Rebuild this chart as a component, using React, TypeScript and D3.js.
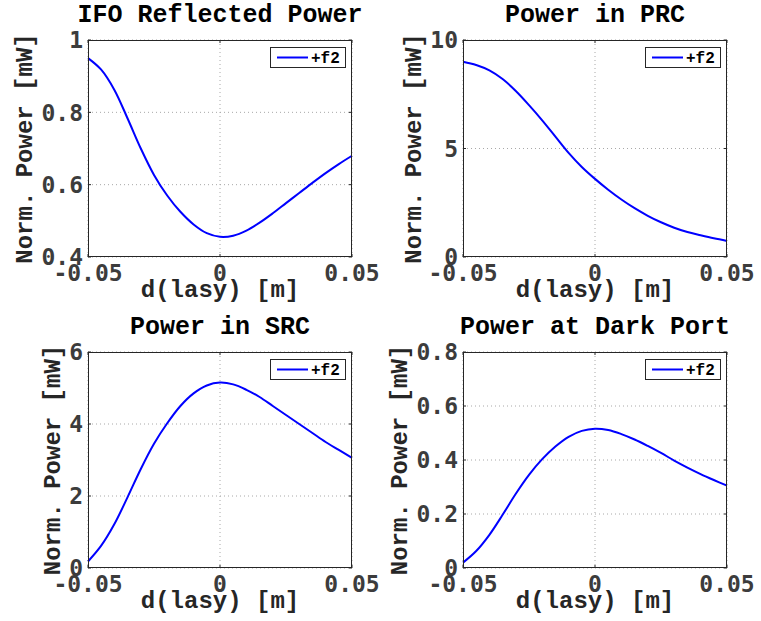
import React, { useRef, useEffect } from 'react';
import * as d3 from 'd3';

// x axis: d(lasy) [m]
const lasy = [
  -0.05, -0.045, -0.04, -0.035, -0.03, -0.025, -0.02, -0.015, -0.01, -0.005,
  0, 0.005, 0.01, 0.015, 0.02, 0.025, 0.03, 0.035, 0.04, 0.045, 0.05,
];
const xTicks = [-0.05, 0, 0.05];
const xTickLabels = ['-0.05', '0', '0.05'];

const titles = ['IFO Reflected Power', 'Power in PRC', 'Power in SRC', 'Power at Dark Port'];
const seriesName = '+f2';

const reflPower = [
  0.95, 0.918, 0.862, 0.783, 0.7, 0.627, 0.57, 0.525, 0.49, 0.466,
  0.456, 0.459, 0.473, 0.495, 0.521, 0.549, 0.577, 0.605, 0.632, 0.657, 0.68,
];
const prcPower = [
  9.0, 8.85, 8.6, 8.2, 7.65, 7.0, 6.3, 5.55, 4.8, 4.15,
  3.6, 3.1, 2.65, 2.25, 1.9, 1.6, 1.35, 1.15, 1.0, 0.86, 0.74,
];
const srcPower = [
  0.18, 0.62, 1.22, 1.97, 2.75, 3.45, 4.02, 4.5, 4.85, 5.07,
  5.15, 5.1, 4.95, 4.75, 4.5, 4.25, 4.0, 3.75, 3.5, 3.28, 3.06,
];
const darkPower = [
  0.02, 0.063, 0.123, 0.197, 0.275, 0.345, 0.403, 0.45, 0.486, 0.508,
  0.516, 0.511, 0.496, 0.476, 0.452, 0.426, 0.398, 0.372, 0.348, 0.326, 0.305,
];

const yDomains = [[0.4, 1], [0, 10], [0, 6], [0, 0.8]];
const yTicks = [
  [0.4, 0.6, 0.8, 1],
  [0, 5, 10],
  [0, 2, 4, 6],
  [0, 0.2, 0.4, 0.6, 0.8],
];
const yTickLabels = [
  ['0.4', '0.6', '0.8', '1'],
  ['0', '5', '10'],
  ['0', '2', '4', '6'],
  ['0', '0.2', '0.4', '0.6', '0.8'],
];

const W = 761;
const H = 621;
// plot boxes [left, top, right, bottom]
const boxes = [
  [88, 40, 352, 257],
  [463, 40, 727, 257],
  [88, 352, 352, 568],
  [463, 352, 727, 568],
];

const serif = '"Liberation Mono", "Courier New", monospace';
const sans = '"DejaVu Sans Mono", "Liberation Mono", monospace';

const App = () => {
  const svgRef = useRef(null);

  useEffect(() => {
    const svg = d3.select(svgRef.current);
    svg.selectAll('*').remove();
    const allSeries = [reflPower, prcPower, srcPower, darkPower];

    allSeries.forEach((values, i) => {
      const [l, t, r, b] = boxes[i];
      const x = d3.scaleLinear().domain([-0.05, 0.05]).range([l, r]);
      const y = d3.scaleLinear().domain(yDomains[i]).range([b, t]);
      const g = svg.append('g');

      g.append('rect')
        .attr('x', l).attr('y', t)
        .attr('width', r - l).attr('height', b - t)
        .attr('fill', '#fff');

      // grid
      g.selectAll('.gx')
        .data(xTicks)
        .join('line')
        .attr('x1', d => x(d)).attr('x2', d => x(d))
        .attr('y1', t).attr('y2', b)
        .attr('stroke', '#a8a8a8')
        .attr('stroke-dasharray', '1,3');
      g.selectAll('.gy')
        .data(yTicks[i])
        .join('line')
        .attr('x1', l).attr('x2', r)
        .attr('y1', d => y(d)).attr('y2', d => y(d))
        .attr('stroke', '#a8a8a8')
        .attr('stroke-dasharray', '1,3');

      // inward ticks
      xTicks.forEach(d => {
        g.append('line').attr('x1', x(d)).attr('x2', x(d)).attr('y1', b).attr('y2', b - 3).attr('stroke', '#262626');
        g.append('line').attr('x1', x(d)).attr('x2', x(d)).attr('y1', t).attr('y2', t + 3).attr('stroke', '#262626');
      });
      yTicks[i].forEach(d => {
        g.append('line').attr('x1', l).attr('x2', l + 3).attr('y1', y(d)).attr('y2', y(d)).attr('stroke', '#262626');
        g.append('line').attr('x1', r).attr('x2', r - 3).attr('y1', y(d)).attr('y2', y(d)).attr('stroke', '#262626');
      });

      // curve
      const line = d3.line()
        .x((d, k) => x(lasy[k]))
        .y(d => y(d))
        .curve(d3.curveCatmullRom.alpha(0.5));
      g.append('path')
        .datum(values)
        .attr('d', line)
        .attr('fill', 'none')
        .attr('stroke', '#0000ff')
        .attr('stroke-width', 2);

      // frame
      g.append('rect')
        .attr('x', l + 0.5).attr('y', t + 0.5)
        .attr('width', r - l - 1).attr('height', b - t - 1)
        .attr('fill', 'none')
        .attr('stroke', '#262626');

      // tick labels
      g.selectAll('.xl')
        .data(xTicks)
        .join('text')
        .attr('x', d => x(d))
        .attr('y', b + 24)
        .attr('text-anchor', 'middle')
        .attr('font-family', sans)
        .attr('font-weight', 'bold')
        .attr('font-size', 23)
        .attr('fill', '#3c3c3c')
        .text((d, k) => xTickLabels[k]);
      g.selectAll('.yl')
        .data(yTicks[i])
        .join('text')
        .attr('x', l - 5)
        .attr('y', d => y(d))
        .attr('dy', '0.36em')
        .attr('text-anchor', 'end')
        .attr('font-family', sans)
        .attr('font-weight', 'bold')
        .attr('font-size', 23)
        .attr('fill', '#3c3c3c')
        .text((d, k) => yTickLabels[i][k]);

      // title and axis labels
      g.append('text')
        .attr('x', (l + r) / 2)
        .attr('y', t - 18)
        .attr('text-anchor', 'middle')
        .attr('font-family', serif)
        .attr('font-weight', 'bold')
        .attr('font-size', 25)
        .attr('fill', '#000')
        .text(titles[i]);
      g.append('text')
        .attr('x', (l + r) / 2)
        .attr('y', b + 40)
        .attr('text-anchor', 'middle')
        .attr('font-family', serif)
        .attr('font-weight', 'bold')
        .attr('font-size', 24)
        .attr('fill', '#262626')
        .text('d(lasy) [m]');
      const maxChars = d3.max(yTickLabels[i], s => s.length);
      const labelX = l - 14 - maxChars * 14;
      g.append('text')
        .attr('transform', `translate(${labelX},${(t + b) / 2}) rotate(-90)`)
        .attr('text-anchor', 'middle')
        .attr('font-family', serif)
        .attr('font-weight', 'bold')
        .attr('font-size', 24)
        .attr('fill', '#262626')
        .text('Norm. Power [mW]');

      // legend
      const lg = g.append('g').attr('transform', `translate(${r - 82},${t + 7})`);
      lg.append('rect')
        .attr('x', 0.5).attr('y', 0.5)
        .attr('width', 75).attr('height', 20)
        .attr('fill', '#fff')
        .attr('stroke', '#262626');
      lg.append('line')
        .attr('x1', 7).attr('x2', 38)
        .attr('y1', 10.5).attr('y2', 10.5)
        .attr('stroke', '#0000ff')
        .attr('stroke-width', 2);
      lg.append('text')
        .attr('x', 41)
        .attr('y', 15.5)
        .attr('font-family', serif)
        .attr('font-weight', 'bold')
        .attr('font-size', 16)
        .attr('fill', '#000')
        .text(seriesName);
    });
  }, []);

  return (
    <svg
      ref={svgRef}
      width={W}
      height={H}
      style={{ position: 'absolute', left: 0, top: 0, background: '#fff' }}
    />
  );
};

export default App;
